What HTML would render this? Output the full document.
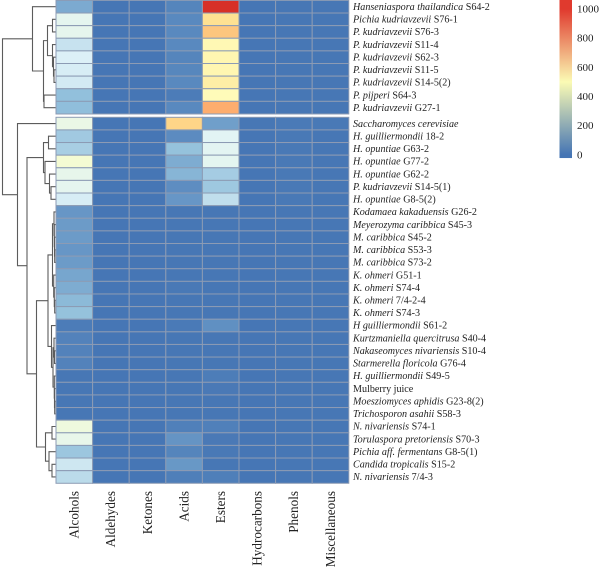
<!DOCTYPE html>
<html>
<head>
<meta charset="utf-8">
<style>
html,body{margin:0;padding:0;background:#fff;width:600px;height:571px;overflow:hidden}
svg{display:block;filter:blur(0.35px)}
text{font-family:"Liberation Serif",serif;fill:#222}
</style>
</head>
<body>
<svg id="chart" width="600" height="571" viewBox="0 0 600 571" xmlns="http://www.w3.org/2000/svg"></svg>
<script>
const compounds = ["Alcohols","Aldehydes","Ketones","Acids","Esters","Hydrocarbons","Phenols","Miscellaneous"];
const sampleItalic = ["Hanseniaspora thailandica","Pichia kudriavzevii","P. kudriavzevii","P. kudriavzevii","P. kudriavzevii","P. kudriavzevii","P. kudriavzevii","P. pijperi","P. kudriavzevii","Saccharomyces cerevisiae","H. guilliermondii","H. opuntiae","H. opuntiae","H. opuntiae","P. kudriavzevii","H. opuntiae","Kodamaea kakaduensis","Meyerozyma caribbica","M. caribbica","M. caribbica","M. caribbica","K. ohmeri","K. ohmeri","K. ohmeri","K. ohmeri","H guilliermondii","Kurtzmaniella quercitrusa","Nakaseomyces nivariensis","Starmerella floricola","H. guilliermondii","","Moesziomyces aphidis","Trichosporon asahii","N. nivariensis","Torulaspora pretoriensis","Pichia aff. fermentans","Candida tropicalis","N. nivariensis"];
const sampleStrain = ["S64-2","S76-1","S76-3","S11-4","S62-3","S11-5","S14-5(2)","S64-3","G27-1","","18-2","G63-2","G77-2","G62-2","S14-5(1)","G8-5(2)","G26-2","S45-3","S45-2","S53-3","S73-2","G51-1","S74-4","7/4-2-4","S74-3","S61-2","S40-4","S10-4","G76-4","S49-5","Mulberry juice","G23-8(2)","S58-3","S74-1","S70-3","G8-5(1)","S15-2","7/4-3"];
const alcohols = [120,360,365,280,325,315,305,170,165,385,200,215,440,370,360,315,75,85,85,75,85,110,125,155,175,15,30,30,30,5,5,5,5,410,375,190,295,255];
const aldehydes = [3,3,3,3,3,3,3,3,3,3,3,3,3,3,3,3,3,3,3,3,3,3,3,3,3,3,3,3,3,3,3,3,3,3,3,3,3,3];
const ketones = [3,3,3,3,3,3,3,3,3,3,3,3,3,3,3,3,3,3,3,3,3,3,3,3,3,3,3,3,3,3,3,3,3,3,3,3,3,3];
const acids = [35,45,45,45,35,40,45,15,45,690,50,175,125,145,55,75,5,5,5,5,5,5,8,5,5,12,5,5,5,5,5,5,5,25,70,35,78,22];
const esters = [1020,660,720,540,550,550,590,520,770,95,345,350,355,210,195,265,5,5,5,5,5,5,5,5,5,60,5,5,5,18,10,5,5,25,10,8,5,22];
const hydrocarbons = [3,3,3,3,3,3,3,3,3,5,3,3,3,3,3,3,3,3,3,3,3,3,3,3,3,3,3,3,3,3,3,3,3,3,3,3,3,3];
const phenols = [5,5,5,5,5,5,5,5,5,12,8,8,8,8,8,8,5,5,5,5,5,5,5,5,5,5,5,5,5,5,5,5,5,5,5,5,5,5];
const miscellaneous = [5,5,5,5,5,5,5,5,5,8,5,5,5,5,5,5,5,5,5,5,5,5,5,5,5,5,5,5,5,5,5,5,5,5,5,5,5,5];
const legendTicks = [0,200,400,600,800,1000];
const colorDomain = [0,167,333,500,667,833,1000];
const colorRange = ["#4575b4","#91bfdb","#e0f3f8","#ffffbf","#fee090","#fc8d59","#d73027"];
const legendDomain = [0,500,1000];
const legendRange = ["#4575b4","#fbfbb4","#e03a2e"];
/* linkage: [merge height, left child, right child]; numbers are row indices */
const linkageUpper = [23,0,[12,[8,[3,1,2],[3,3,[2,4,[1.5,5,6]]]],[11.5,7,8]]];
const linkageHansen = [12,[7,10,11],[10.5,12,[6,13,[4.5,14,15]]]];
const linkageCandida = [3,[1.5,16,[1.2,17,[1,18,[0.8,19,20]]]],[1.8,21,[1.2,22,[0.8,23,24]]]];
const linkageLowAlcohol = [4,25,[2.5,[1.5,26,[1,27,28]],[1.2,29,[1,30,[0.8,31,32]]]]];
const linkageNivariensis = [10,[3.5,33,34],[6.5,35,[3.5,36,37]]];
const linkageRootHeight = 53;
const linkageLowerHeight = 38;
const linkageMidHeight = 28.5;
const linkageBranchHeight = 19;
const linkageCoreHeight = 7.5;

const columns = [alcohols,aldehydes,ketones,acids,esters,hydrocarbons,phenols,miscellaneous];
const NS = "http://www.w3.org/2000/svg";
const svg = document.getElementById("chart");
const plotLeft = 56, colW = 36.6, rowH = 12.62;
const splitRow = 9, topStart = 0.4, lowStart = 117.3;

function xCol(c){ return plotLeft + c*colW; }
function yRow(r){ return r < splitRow ? topStart + r*rowH : lowStart + (r-splitRow)*rowH; }
function yCenter(r){ return yRow(r) + rowH/2; }
function xHeight(h){ return 55.5 - h; }
function yLegend(v){ return 154.7 - v*0.1457; }
function color(v){
  const d = colorDomain;
  if (v <= d[0]) return colorRange[0];
  if (v >= d[d.length-1]) return colorRange[d.length-1];
  let i = 0;
  while (v > d[i+1]) i++;
  const t = (v-d[i])/(d[i+1]-d[i]);
  const a = parseInt(colorRange[i].slice(1),16), b = parseInt(colorRange[i+1].slice(1),16);
  const ch = s => Math.round(((a>>s)&255)*(1-t) + ((b>>s)&255)*t);
  return "rgb("+ch(16)+","+ch(8)+","+ch(0)+")";
}
function make(tag, attrs, parent){
  const el = document.createElementNS(NS, tag);
  for (const k in attrs) el.setAttribute(k, attrs[k]);
  (parent || svg).appendChild(el);
  return el;
}

/* heatmap cells */
const cellsGroup = make("g", {stroke:"#8c9bb4","stroke-width":"1"});


columns.forEach(function(col, c){
  col.forEach(function(v, r){
    const cell = make("rect", {x:xCol(c), y:yRow(r), width:colW, height:rowH, fill:color(v)}, cellsGroup);
    
    
  });
});

/* row labels */
const rowLabels = make("g", {"font-size":"10.1"});


sampleItalic.forEach(function(name, r){
  const t = make("text", {x:353, y:yCenter(r)+3.2}, rowLabels);
  
  
  if (name) {
    const s = make("tspan", {"font-style":"italic"}, t);
    s.textContent = name;
  }
  if (sampleStrain[r]) {
    const s2 = make("tspan", {}, t);
    s2.textContent = (name ? " " : "") + sampleStrain[r];
  }
});

/* column labels */
const colLabels = make("g", {"font-size":"13.2"});


compounds.forEach(function(name, c){
  const cx = xCol(c) + colW/2 + 4.3;
  const t = make("text", {x:cx, y:491, "text-anchor":"end", transform:"rotate(-90 "+cx+" 491)"}, colLabels);
  
  
  t.textContent = name;
});

/* dendrogram */
const tree = make("g", {fill:"none", stroke:"#5c5c5c", "stroke-width":"1.1"});


function drawNode(node){
  if (typeof node === "number") return {x:xHeight(0), y:yCenter(node)};
  const a = drawNode(node[1]), b = drawNode(node[2]);
  const x = xHeight(node[0]);
  const link = make("path", {d:"M"+a.x+" "+a.y+"H"+x+"V"+b.y+"H"+b.x}, tree);
  
  
  return {x:x, y:(a.y+b.y)/2};
}
const linkageCore = [linkageCoreHeight, linkageCandida, linkageLowAlcohol];
const linkageBranch = [linkageBranchHeight, linkageCore, linkageNivariensis];
const linkageMid = [linkageMidHeight, linkageHansen, linkageBranch];
const linkageLower = [linkageLowerHeight, 9, linkageMid];
drawNode([linkageRootHeight, linkageUpper, linkageLower]);

/* legend */
const defs = make("defs", {});
const grad = make("linearGradient", {id:"legend-gradient", x1:"0", y1:"1", x2:"0", y2:"0"}, defs);
const barBottom = -23, barTop = 1075;
legendDomain.forEach(function(v, i){
  make("stop", {offset:(v-barBottom)/(barTop-barBottom), "stop-color":legendRange[i]}, grad);
});
const legend = make("g", {"font-size":"11"});


const bar = make("rect", {x:559.5, y:yLegend(barTop), width:12.5, height:yLegend(barBottom)-yLegend(barTop), fill:"url(#legend-gradient)"}, legend);


legendTicks.forEach(function(v){
  const t = make("text", {x:577, y:yLegend(v)+3.6}, legend);
  
  
  t.textContent = v;
});
</script>
</body>
</html>
